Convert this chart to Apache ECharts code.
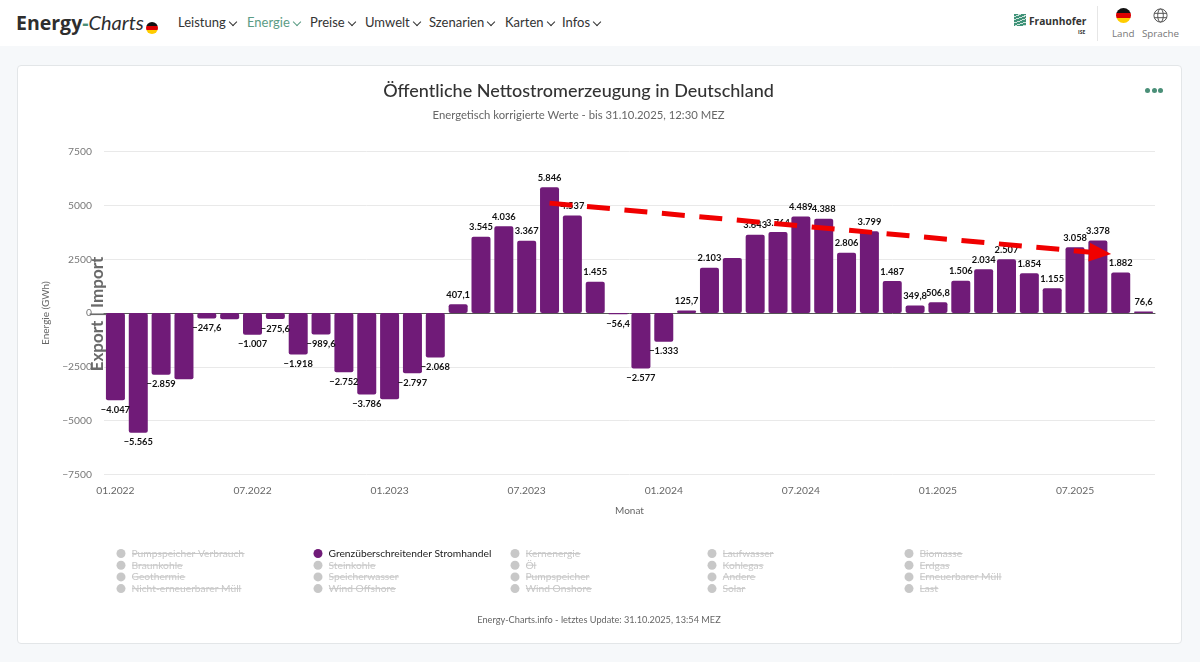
<!DOCTYPE html>
<html lang="de">
<head>
<meta charset="utf-8">
<title>Energy-Charts</title>
<script src="https://cdn.jsdelivr.net/npm/echarts@6/dist/echarts.min.js"></script>
<style>
html,body{margin:0;padding:0;width:1200px;height:662px;overflow:hidden;background:#f6f8fa;font-family:"Open Sans",sans-serif;color:#333}
#header{position:absolute;left:0;top:0;width:1200px;height:46px;background:#fff}
#logo{position:absolute;left:16px;top:9px;font-size:19.5px;font-weight:700;color:#2e2e2e;white-space:nowrap}
#logo .d{color:#4a8f78}
#logo .c{font-family:Lato,sans-serif;font-weight:400;font-style:italic;font-size:20px}
.flag{display:inline-block;border-radius:50%;background:linear-gradient(#111 0 33.3%,#d00 33.3% 66.6%,#fc0 66.6%)}
#logo .flag{position:absolute;left:130px;top:13px;width:12px;height:12px}
.nav{position:absolute;top:14px;font-family:Lato,sans-serif;font-size:13px;color:#333;white-space:nowrap}
.nav i{display:inline-block;width:5px;height:5px;border-right:1.5px solid currentColor;border-bottom:1.5px solid currentColor;transform:rotate(45deg);margin-left:4px;position:relative;top:-2px}
#fh{position:absolute;left:1014px;top:14px;width:12px;height:12px;background:repeating-linear-gradient(160deg,#3f9278 0 2px,#cfe3dc 2px 3px)}
#fht{position:absolute;left:1029px;top:14px;font-size:10.2px;font-weight:700;color:#333}
#fhs{position:absolute;left:1078px;top:29px;font-size:5px;font-weight:700;color:#333}
#sep{position:absolute;left:1097px;top:6px;width:1px;height:35px;background:#e6e6e6}
#fl{position:absolute;left:1116px;top:8px;width:15px;height:15px}
#gl{position:absolute;left:1153px;top:8px;width:15px;height:15px}
.lab{position:absolute;top:27px;font-size:9.8px;color:#777}
#card{position:absolute;left:17px;top:65px;width:1163px;height:577px;background:#fff;border:1px solid #e3e6e8;border-radius:4px}
#dots{position:absolute;left:1145px;top:88px;display:flex;gap:1.5px}
#dots b{display:block;width:5px;height:5px;border-radius:50%;background:#4a8f78}
#chart{position:absolute;left:0;top:0;width:1200px;height:662px}
</style>
</head>
<body>
<div id="header">
  <div id="logo">Energy<span class="d">-</span><span class="c">Charts</span><span class="flag"></span></div>
  <div class="nav" style="left:178px">Leistung<i></i></div>
  <div class="nav" style="left:247px;color:#5b9c85">Energie<i></i></div>
  <div class="nav" style="left:310px">Preise<i></i></div>
  <div class="nav" style="left:365px">Umwelt<i></i></div>
  <div class="nav" style="left:429px">Szenarien<i></i></div>
  <div class="nav" style="left:505px">Karten<i></i></div>
  <div class="nav" style="left:562px">Infos<i></i></div>
  <div id="fh"></div><div id="fht">Fraunhofer</div><div id="fhs">ISE</div>
  <div id="sep"></div>
  <div id="fl" class="flag"></div>
  <svg id="gl" viewBox="0 0 24 24" fill="none" stroke="#555" stroke-width="1.6"><circle cx="12" cy="12" r="10.5"/><ellipse cx="12" cy="12" rx="4.5" ry="10.5"/><path d="M2 8.5h20M2 15.5h20"/></svg>
  <div class="lab" style="left:1112px">Land</div>
  <div class="lab" style="left:1142px">Sprache</div>
</div>
<div id="card"></div>
<div id="chart"></div>
<div id="dots"><b></b><b></b><b></b></div>
<script>
const categories = ["01.2022","02.2022","03.2022","04.2022","05.2022","06.2022","07.2022","08.2022","09.2022","10.2022","11.2022","12.2022",
"01.2023","02.2023","03.2023","04.2023","05.2023","06.2023","07.2023","08.2023","09.2023","10.2023","11.2023","12.2023",
"01.2024","02.2024","03.2024","04.2024","05.2024","06.2024","07.2024","08.2024","09.2024","10.2024","11.2024","12.2024",
"01.2025","02.2025","03.2025","04.2025","05.2025","06.2025","07.2025","08.2025","09.2025","10.2025"];
const values = [-4047,-5565,-2859,-3070,-247.6,-290,-1007,-275.6,-1918,-989.6,-2752,-3786,
-4000,-2797,-2068,407.1,3545,4036,3367,5846,4537,1455,-56.4,-2577,
-1333,125.7,2103,2560,3643,3764,4489,4388,2806,3799,1487,349.8,
506.8,1506,2034,2507,1854,1155,3058,3378,1882,76.6];
const hiddenLabels = [3,5,12,27];
const trendX = [19,43.1];
const trendY = [5110,2790];
const legendColumns = [
  ["Pumpspeicher Verbrauch","Braunkohle","Geothermie","Nicht-erneuerbarer Müll"],
  ["Grenzüberschreitender Stromhandel","Steinkohle","Speicherwasser","Wind Offshore"],
  ["Kernenergie","Öl","Pumpspeicher","Wind Onshore"],
  ["Laufwasser","Kohlegas","Andere","Solar"],
  ["Biomasse","Erdgas","Erneuerbarer Müll","Last"]
];
const activeName = "Grenzüberschreitender Stromhandel";
const FONT = 'Lato,"Open Sans",sans-serif';
const legendLeft = [116.5,313.5,510.5,707.5,904.5];
const rowY = [553,564.7,576.4,588.1];

function fmtLabel(v){
  const a = Math.abs(v);
  let s;
  if (a >= 1000) s = Math.round(a).toString().replace(/\B(?=(\d{3})+$)/g,'.');
  else s = a.toFixed(1).replace('.',',');
  return (v < 0 ? '\u2212' : '') + s;
}
const allNames = legendColumns.flat();
const selected = {};
allNames.forEach(n => { selected[n] = n === activeName; });

const ctx = document.createElement('canvas').getContext('2d');
ctx.font = '10.25px Lato';
const strikes = [];
legendColumns.forEach((col,c) => col.forEach((n,r) => {
  if (n === activeName) return;
  const x = legendLeft[c] + 15.5;
  strikes.push({type:'line',silent:true,z:20,
    shape:{x1:x,y1:rowY[r]+0.5,x2:x+ctx.measureText(n).width,y2:rowY[r]+0.5},
    style:{stroke:'#c8c8c8',lineWidth:1}});
}));

const seriesList = allNames.map(n => {
  if (n !== activeName) return {name:n,type:'bar',stack:'s',data:[]};
  return {
    name:n,type:'bar',stack:'s',barWidth:19,z:2,
    itemStyle:{color:'#701b78',borderRadius:2},
    label:{show:true,position:'outside',distance:5,color:'#111',fontSize:9.3,fontWeight:'bold',fontFamily:FONT,
      formatter:p => fmtLabel(p.value)},
    data:values.map((v,i) => hiddenLabels.includes(i) ? {value:v,label:{show:false}} : v)
  };
});
seriesList.push({
  name:'Trend',type:'line',xAxisIndex:1,yAxisIndex:0,z:10,silent:true,
  showSymbol:true,showAllSymbol:true,symbol:'none',
  itemStyle:{color:'#f00000'},
  lineStyle:{color:'#f00000',width:5,type:[23,14.6]},
  data:trendX.map((x,i) => i === trendX.length - 1
    ? {value:[x,trendY[i]],symbol:'triangle',symbolSize:[19,22],symbolRotate:-95}
    : {value:[x,trendY[i]],symbol:'none'})
});

const chart = echarts.init(document.getElementById('chart'),null,{renderer:'canvas'});
chart.setOption({
  animation:false,
  textStyle:{fontFamily:FONT},
  title:[
    {text:'Öffentliche Nettostromerzeugung in Deutschland',left:578.5,top:82,padding:0,textAlign:'center',
     textStyle:{fontSize:18,fontWeight:500,color:'#333',fontFamily:FONT}},
    {text:'Energetisch korrigierte Werte - bis 31.10.2025, 12:30 MEZ',left:578.5,top:110,padding:0,textAlign:'center',
     textStyle:{fontSize:11.3,fontWeight:400,color:'#666',fontFamily:FONT}},
    {text:'Energy-Charts.info - letztes Update: 31.10.2025, 13:54 MEZ',left:599,top:616,padding:0,textAlign:'center',
     textStyle:{fontSize:9.2,fontWeight:400,color:'#666',fontFamily:FONT}}
  ],
  legend:legendColumns.map((col,c) => ({
    data:col,selected,orient:'vertical',left:legendLeft[c],top:548.5,padding:0,
    icon:'circle',itemWidth:9,itemHeight:9,itemGap:1.7,
    inactiveColor:'#c8c8c8',selectedMode:false,
    textStyle:{fontSize:10.25,color:'#222',fontFamily:FONT,padding:[0,0,0,1]}
  })),
  grid:{left:104,right:45,top:151.7,bottom:187.5,containLabel:false},
  xAxis:[
    {type:'category',data:categories,
     axisLine:{lineStyle:{color:'#555',width:1}},axisTick:{show:false},splitLine:{show:false},
     axisLabel:{interval:5,color:'#666',fontSize:10.3,margin:11,fontFamily:FONT},
     name:'Monat',nameLocation:'middle',nameGap:31,nameTextStyle:{color:'#666',fontSize:10,fontFamily:FONT}},
    {type:'value',min:-0.5,max:45.5,show:false}
  ],
  yAxis:{type:'value',min:-7500,max:7500,interval:2500,
    axisLine:{show:false},axisTick:{show:false},
    splitLine:{lineStyle:{color:'#e9e9e9',width:1}},
    axisLabel:{color:'#777',fontSize:10.3,margin:12,fontFamily:FONT,
      formatter:v => String(v).replace('-','\u2212')},
    name:'Energie (GWh)',nameLocation:'middle',nameGap:45,nameRotate:90,
    nameTextStyle:{color:'#666',fontSize:10,fontFamily:FONT}},
  graphic:[
    {type:'text',x:98,y:314,rotation:Math.PI/2,silent:true,z:5,
     style:{text:'Export | Import',align:'center',verticalAlign:'middle',fontSize:17,fontWeight:'bold',fontFamily:FONT,fill:'#6a6a6a'}}
  ].concat(strikes),
  series:seriesList
});
</script>
</body>
</html>
